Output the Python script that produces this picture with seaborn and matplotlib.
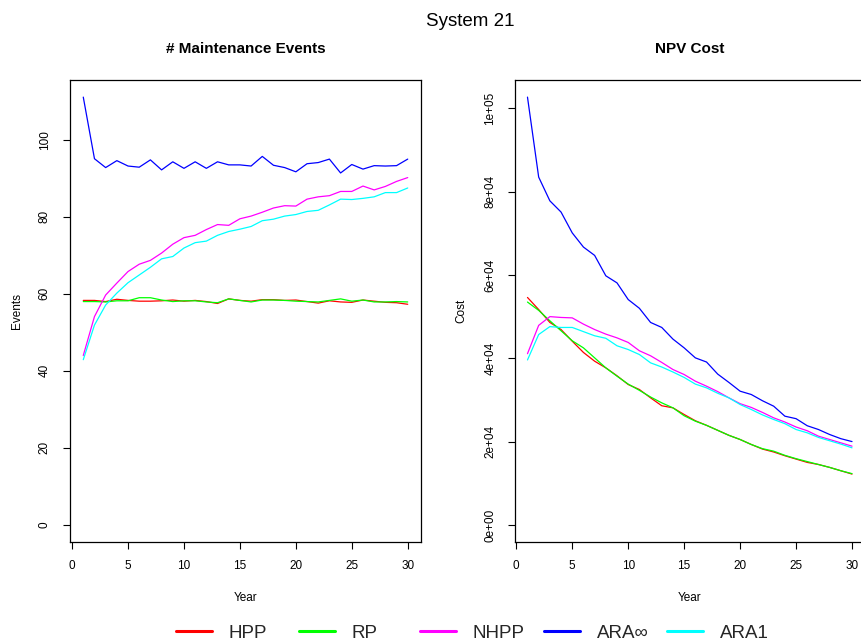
import matplotlib
matplotlib.use("Agg")
import numpy as np
import pandas as pd
import matplotlib.pyplot as plt
import seaborn as sns
from matplotlib.lines import Line2D

# ---- data -------------------------------------------------------------
years = list(range(1, 31))
models = ["HPP", "RP", "NHPP", "ARA\u221e", "ARA1"]
colors = ["#FF0000", "#00FF00", "#FF00FF", "#0000FF", "#00FFFF"]

events_hpp = [58.3, 58.3, 58.0, 58.6, 58.3, 58.1, 58.1, 58.2, 58.4, 58.1,
              58.3, 58.0, 57.5, 58.7, 58.3, 58.1, 58.5, 58.5, 58.3, 58.4,
              58.0, 57.6, 58.2, 57.9, 57.8, 58.4, 58.1, 57.8, 57.7, 57.3]
events_rp = [58.0, 58.0, 57.9, 58.2, 58.2, 59.0, 59.0, 58.4, 58.0, 58.2,
             58.2, 57.9, 57.7, 58.7, 58.3, 57.9, 58.4, 58.4, 58.3, 58.1,
             58.0, 57.9, 58.3, 58.7, 58.1, 58.4, 57.9, 57.9, 58.0, 57.9]
events_nhpp = [44.0, 54.1, 59.7, 62.8, 65.8, 67.7, 68.7, 70.6, 72.9, 74.6,
               75.2, 76.7, 78.0, 77.8, 79.5, 80.2, 81.2, 82.3, 82.9, 82.8,
               84.6, 85.2, 85.5, 86.6, 86.6, 88.0, 87.0, 87.9, 89.2, 90.2]
events_arainf = [111.1, 95.1, 92.8, 94.6, 93.2, 92.9, 94.8, 92.2, 94.3, 92.6,
                 94.3, 92.6, 94.3, 93.5, 93.5, 93.2, 95.7, 93.4, 92.8, 91.7,
                 93.8, 94.1, 95.0, 91.4, 93.6, 92.4, 93.3, 93.2, 93.3, 95.0]
events_ara1 = [42.9, 51.9, 57.1, 60.2, 62.9, 64.9, 66.9, 69.1, 69.7, 71.9,
               73.3, 73.7, 75.2, 76.2, 76.8, 77.5, 79.0, 79.4, 80.2, 80.6,
               81.4, 81.7, 83.1, 84.6, 84.5, 84.8, 85.2, 86.3, 86.3, 87.5]

cost_hpp = [54600, 51700, 48600, 46900, 44100, 41400, 39300, 37700, 35800, 33700,
            32500, 30500, 28600, 28100, 26500, 25000, 23900, 22700, 21500, 20500,
            19300, 18200, 17500, 16600, 15800, 15000, 14500, 13800, 13000, 12200]
cost_rp = [53500, 51500, 49000, 46600, 44200, 42500, 40100, 37700, 35700, 33800,
           32300, 30700, 29300, 28100, 26200, 24900, 23900, 22700, 21500, 20500,
           19300, 18300, 17700, 16700, 15900, 15200, 14500, 13800, 13000, 12300]
cost_nhpp = [41100, 47900, 50000, 49800, 49700, 48200, 46900, 45800, 44900, 43800,
             41800, 40600, 39000, 37300, 36100, 34500, 33300, 32000, 30500, 29100,
             28200, 27000, 25700, 24700, 23500, 22600, 21300, 20500, 19700, 18900]
cost_arainf = [102700, 83500, 77800, 75100, 70100, 66700, 64700, 59800, 58100, 54100,
               52000, 48600, 47400, 44600, 42500, 40100, 39100, 36200, 34200, 32100,
               31300, 29800, 28500, 26100, 25500, 23800, 22900, 21700, 20700, 20000]
cost_ara1 = [39600, 45700, 47600, 47400, 47400, 46400, 45400, 44800, 43000, 42100,
             40900, 38900, 37900, 36700, 35400, 33800, 32900, 31600, 30500, 28900,
             27700, 26400, 25300, 24300, 22900, 22100, 21000, 20200, 19400, 18500]

event_ticks = [0, 20, 40, 60, 80, 100]
event_tick_labels = ["0", "20", "40", "60", "80", "100"]
cost_ticks = [0, 20000, 40000, 60000, 80000, 100000]
cost_tick_labels = ["0e+00", "2e+04", "4e+04", "6e+04", "8e+04", "1e+05"]
year_ticks = [0, 5, 10, 15, 20, 25, 30]

# ---- tidy frames ------------------------------------------------------
def long_frame(series, value_name):
    parts = []
    for name, vals in zip(models, series):
        parts.append(pd.DataFrame({"Year": years, value_name: vals, "Model": name}))
    return pd.concat(parts, ignore_index=True)

df_events = long_frame([events_hpp, events_rp, events_nhpp, events_arainf, events_ara1], "Events")
df_cost = long_frame([cost_hpp, cost_rp, cost_nhpp, cost_arainf, cost_ara1], "Cost")

# ---- style ------------------------------------------------------------
sns.set_theme(style="white")
plt.rcParams["font.family"] = ["Liberation Sans", "DejaVu Sans"]

W, H = 861, 644
fig = plt.figure(figsize=(W / 100, H / 100), dpi=100)
fig.patch.set_facecolor("white")

ax1 = fig.add_axes([70.3 / W, 1 - 542 / H, 350.4 / W, 462 / H])
ax2 = fig.add_axes([514.5 / W, 1 - 542 / H, 350.5 / W, 462 / H])

palette = dict(zip(models, colors))


def r_limits(lo, hi):
    span = hi - lo
    return lo - 0.04 * span, hi + 0.04 * span


def style_axes(ax, df, col, yticks, ylabels, title, ylabel, ypad):
    sns.lineplot(data=df, x="Year", y=col, hue="Model", hue_order=models,
                 palette=palette, estimator=None, sort=False, legend=False,
                 linewidth=0.9, ax=ax)
    ax.set_xlim(*r_limits(min(years), max(years)))
    ax.set_ylim(*r_limits(0, df[col].max()))
    ax.set_xticks(year_ticks)
    ax.set_xticklabels([str(t) for t in year_ticks])
    ax.set_yticks(yticks)
    ax.set_yticklabels(ylabels, rotation=90, va="center")
    for s in ax.spines.values():
        s.set_visible(True)
        s.set_color("black")
        s.set_linewidth(0.9)
    ax.tick_params(axis="both", which="both", direction="out", length=5,
                   width=0.8, color="black", labelcolor="black", labelsize=8.5,
                   bottom=True, left=True, top=False, right=False)
    ax.tick_params(axis="x", pad=8)
    ax.tick_params(axis="y", pad=ypad)
    ax.set_xlabel("Year", fontsize=8.5, color="black")
    ax.set_ylabel(ylabel, fontsize=8.5, color="black")
    ax.xaxis.set_label_coords(0.5, -50 / 462)
    ax.yaxis.set_label_coords(-47 / 350.4, 0.5)
    ax.text(0.5, 1 + 31 / 462, title, transform=ax.transAxes, ha="center",
            va="center", fontsize=11, fontweight="bold", color="black")
    ax.grid(False)


style_axes(ax1, df_events, "Events", event_ticks, event_tick_labels,
           "# Maintenance Events", "Events", 9)
style_axes(ax2, df_cost, "Cost", cost_ticks, cost_tick_labels,
           "NPV Cost", "Cost", 8)

fig.text(470.5 / W, 1 - 21 / H, "System 21", ha="center", va="center",
         fontsize=13.5, color="black")

# ---- legend: evenly spaced entries along the bottom --------------------
entry_x = [175.7, 298.6, 420.0, 544.0, 666.7]
for name, col, x in zip(models, colors, entry_x):
    h = Line2D([0], [0], color=col, linewidth=2.2)
    fig.legend(handles=[h], labels=[name], loc="center left",
               bbox_to_anchor=(x / W, 1 - 633 / H), frameon=False,
               borderpad=0, borderaxespad=0, handlelength=1.92,
               handletextpad=0.9,
               prop={"family": ["Liberation Sans", "DejaVu Sans"], "size": 13.5})

fig.savefig("out.png", dpi=100, facecolor="white")
